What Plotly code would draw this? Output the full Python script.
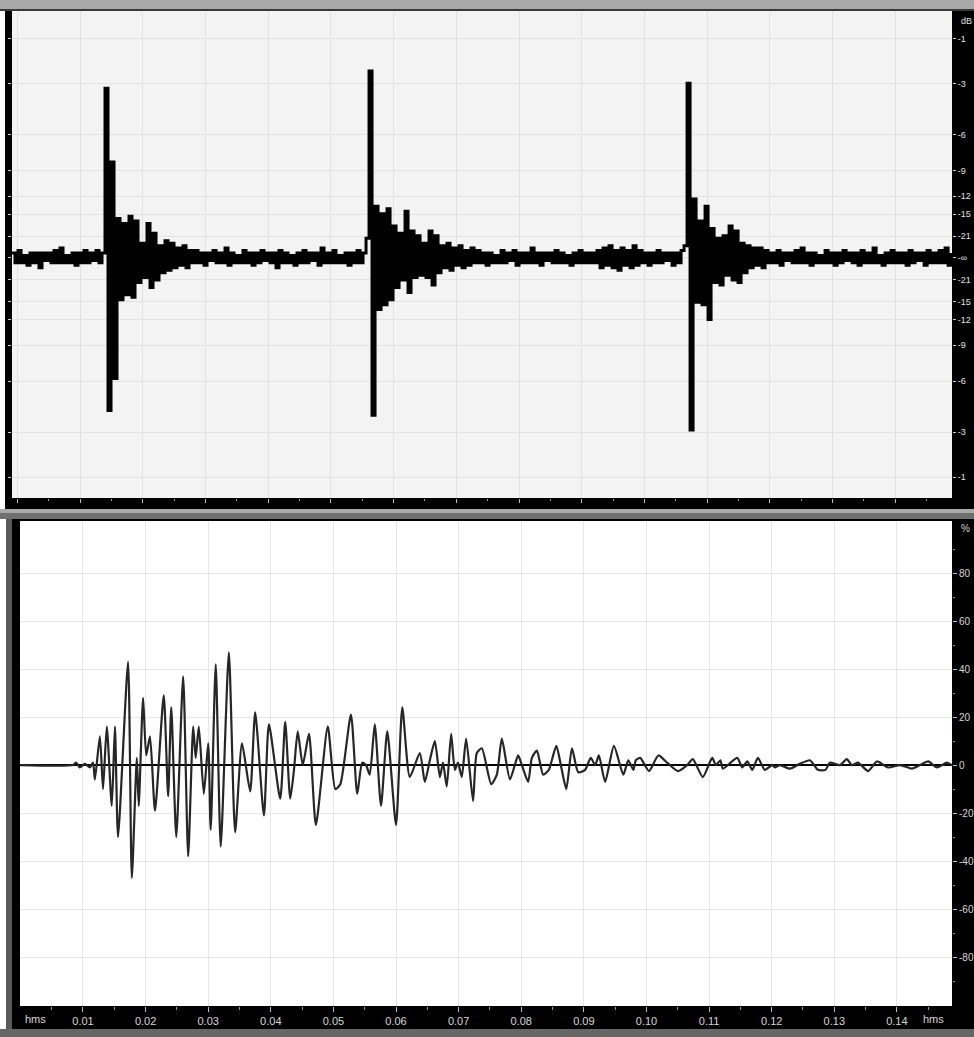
import plotly.graph_objects as go

W, H = 974, 1037

# ---------------- top panel: overview waveform (amplitude in % of full scale, one value per sample)
noise_a = [2, -2, 3, -2, 1, -3, 2, -2, 2, -4, 2, -1, 2, -2, 3, -2, 4, -2, 1, -2,
           2, -3, 2, -2, 3, -2, 2, -1, 3, -2, 2]
event_1 = [69, -62, 39, -49, 16, -17, 14, -15, 17, -16, 15, -10, 6, -8, 14, -12, 10, -9, 5, -6,
           7, -5, 6, -4, 4, -3, 5, -4, 3, -2]
noise_b = [3, -2, 2, -3, 2, -1, 3, -2, 2, -2, 4, -3, 2, -2, 1, -2, 3, -2, 2, -3,
           2, -2, 3, -1, 2, -2, 2, -4, 3, -2, 2, -2, 1, -3, 2, -2, 3, -2, 2, -1,
           2, -3, 4, -2, 2, -2, 3, -2, 1, -2, 2, -3, 2, -2, 3, -2, 2]
event_2 = [8, 76, -64, 21, -21, 18, -19, 20, -17, 13, -12, 10, -9, 19, -14, 11, -8, 9, -7, 6,
           -8, 11, -11, 9, -6, 5, -4, 6, -5, 4, -3, 5, -4, 3, -3, 4]
noise_c = [-2, 3, -2, 2, -3, 2, -2, 1, -2, 3, -2, 2, -1, 3, -3, 2, -2, 2, -2, 4,
           -2, 2, -3, 2, -1, 2, -2, 3, -2, 2, -2, 1, -3, 2, -2, 3, -2, 2, -2, 2,
           -2, 3, -4, 4, -3, 5, -4, 3, -5, 4, -3, 3, -4, 5, -3, 3, -2, 2, -3, 2,
           -2, 3, -2, 2, -1, 2, -3, 2, -2, 3]
event_3 = [5, 71, -70, 24, -18, 15, -19, 21, -25, 12, -10, 8, -11, 9, -7, 13, -9, 11, -10, 6,
           -6, 5, -4, 4, -3, 4, -4]
noise_d = [3, -2, 2, -2, 3, -3, 2, -1, 2, -2, 3, -2, 4, -2, 2, -3, 2, -2, 1, -2,
           3, -2, 2, -3, 2, -2, 3, -1, 2, -2, 2, -3, 3, -2, 2, -2, 4, -2, 1, -3,
           2, -2, 3, -2, 2, -2, 2, -3, 3, -2, 2, -1, 2, -3, 3, -2, 2, -2, 3, -2,
           4, -3, 2]
top_v = noise_a + event_1 + noise_b + event_2 + noise_c + event_3 + noise_d
top_x = list(range(len(top_v)))  # sample index

db_vals = [89.1, 70.8, 50.1, 35.5, 25.1, 17.8, 8.9, 0, -8.9, -17.8, -25.1, -35.5, -50.1, -70.8, -89.1]
db_text = ["-1", "-3", "-6", "-9", "-12", "-15", "-21", "-\u221e", "-21", "-15", "-12", "-9", "-6", "-3", "-1"]

# ---------------- bottom panel: zoomed waveform (time in ms, amplitude in %)
bot_t = [0, 8.4, 8.9, 9.5, 10.3, 11.1, 11.6, 11.9, 12.7, 13.2,
         13.8, 14.6, 15.1, 15.6, 17.2, 17.8, 18.6, 18.9, 19.6, 20.1,
         20.7, 21.5, 22.9, 23.6, 24.1, 24.9, 26.0, 26.8, 27.6, 28.0,
         28.5, 29.3, 30.0, 30.4, 31.2, 32.0, 33.3, 34.3, 35.4, 36.7,
         37.5, 38.9, 39.7, 41.5, 42.3, 43.1, 43.7, 44.3, 45.1, 46.1,
         47.2, 49.1, 50.3, 51.1, 52.8, 53.8, 54.6, 55.2, 55.8, 56.6,
         57.6, 58.6, 60.0, 61.0, 62.2, 63.8, 64.6, 65.4, 66.2, 67.0,
         67.5, 68.1, 68.8, 69.4, 69.9, 70.5, 71.2, 72.3, 72.9, 73.7,
         75.2, 76.1, 76.9, 78.2, 79.5, 80.1, 81.1, 81.7, 82.5, 83.5,
         84.4, 85.6, 86.4, 87.2, 88.1, 89.1, 90.2, 91.1, 91.8, 92.4,
         93.4, 94.8, 96.3, 97.1, 97.9, 98.3, 99.0, 100.4, 101.9, 103.3,
         105.0, 106.5, 107.4, 109.0, 110.5, 111.1, 111.8, 112.2, 114.5, 115.3,
         116.1, 116.9, 117.8, 118.9, 120.1, 120.5, 121.3, 122.9, 124.5, 126.1,
         127.4, 128.6, 129.3, 130.9, 132.0, 132.8, 133.8, 135.4, 136.8, 138.6,
         140.5, 142.4, 143.7, 145.0, 146.4, 148.0, 148.8, 149.3]
bot_v = [0, 0, 1, -1, 0.5, -1, 1, -6, 12, -10,
         16, -17, 16, -30, 43, -47, 3, -17, 28, 4,
         12, -19, 29, -13, 24, -30, 37, -38, 16, 3,
         16, -12, 9, -27, 42, -34, 47, -28, 9, -11,
         22, -21, 17, -14, 18, -14, -2, 14, 0, 13,
         -25, 16, -10, -8, 21, -12, 1, 0, -4, 17,
         -17, 14, -25, 24, -5, 5, -7, 2, 10, -5,
         1, -9, 13, -2, 1, -5, 11, -15, 5, 7,
         -8, -4, 11, -6, 4, 0, -7, 3, 6, -4,
         -2, 8, -1, -10, 7, -3, -2, 3, 0, 4,
         -7, 8, -4, 2, -2, 2, 3, -2.5, 4, 1,
         -2.5, 0, 2.5, -5, 3, 0, 2, -1.5, 3, -1,
         1.5, -2, 3, -2, 0, -1, 0, -1.5, 0.5, 2,
         -2, -2, 1, 0, 2.5, 0, 1, -2.5, 1.5, -1,
         0, -1.5, 0, 1.5, -1, 1, 0, 0]
assert len(bot_t) == len(bot_v)

x_tickvals = [10, 20, 30, 40, 50, 60, 70, 80, 90, 100, 110, 120, 130, 140]
x_ticktext = ["0.01", "0.02", "0.03", "0.04", "0.05", "0.06", "0.07", "0.08", "0.09", "0.10",
              "0.11", "0.12", "0.13", "0.14"]
x_minor = [5, 15, 25, 35, 45, 55, 65, 75, 85, 95, 105, 115, 125, 135, 145]
pct_vals = [-80, -60, -40, -20, 0, 20, 40, 60, 80]
pct_text = ["-80", "-60", "-40", "-20", "0", "20", "40", "60", "80"]

FONT = "Liberation Sans, Arial, sans-serif"
LBL = "#d6d6d6"

def px(x):
    return x / W

def py(y):
    return 1 - y / H

fig = go.Figure()
fig.add_trace(go.Scatter(x=top_x, y=top_v, mode="lines", line=dict(color="#000000", width=3, shape="hv"),
                         xaxis="x", yaxis="y", hoverinfo="skip"))
fig.add_trace(go.Scatter(x=bot_t, y=bot_v, mode="lines",
                         line=dict(color="#262626", width=2.2, shape="spline", smoothing=0.6),
                         xaxis="x2", yaxis="y2", hoverinfo="skip"))

fig.update_layout(
    width=W, height=H, margin=dict(l=0, r=0, t=0, b=0),
    paper_bgcolor="#000000", plot_bgcolor="#ffffff", showlegend=False,
    font=dict(family=FONT, color=LBL),
    xaxis=dict(domain=[px(12), px(952)], anchor="y", range=[0, 313.3],
               tickmode="linear", tick0=22.7, dtick=20.9, showticklabels=False,
               ticks="outside", ticklen=4, tickcolor="#bdbdbd",
               minor=dict(tickmode="linear", tick0=12.25, dtick=20.9, ticks="outside", ticklen=2,
                          tickcolor="#9a9a9a", showgrid=False),
               showgrid=True, gridcolor="#e2e2e2", gridwidth=1, zeroline=False, showline=False),
    yaxis=dict(domain=[py(498), py(11)], anchor="x", range=[-97.6, 100.4], side="right",
               tickmode="array", tickvals=db_vals, ticktext=db_text,
               ticks="outside", ticklen=3, tickcolor="#cfcfcf",
               tickfont=dict(size=9, color="#e0e0e0", family=FONT),
               showgrid=True, gridcolor="#e3e3e3", gridwidth=1, zeroline=False,
               showline=True, linecolor="#000000", linewidth=1, mirror="ticks"),
    xaxis2=dict(domain=[px(20), px(952)], anchor="y2", range=[-0.06, 148.8],
                tickmode="array", tickvals=x_tickvals, ticktext=x_ticktext,
                ticks="outside", ticklen=5, tickcolor="#bdbdbd",
                tickfont=dict(size=11, color=LBL, family=FONT),
                minor=dict(tickmode="array", tickvals=x_minor, ticks="outside", ticklen=3,
                           tickcolor="#9a9a9a", showgrid=False),
                showgrid=True, gridcolor="#e6e6e6", gridwidth=1, zeroline=False, showline=False),
    yaxis2=dict(domain=[py(1006), py(521)], anchor="x2", range=[-100.4, 101.7], side="right",
                tickmode="array", tickvals=pct_vals, ticktext=pct_text,
                ticks="outside", ticklen=4, tickcolor="#bdbdbd",
                tickfont=dict(size=10, color=LBL, family=FONT),
                minor=dict(tickmode="linear", tick0=10, dtick=20, ticks="outside", ticklen=2,
                           tickcolor="#9a9a9a", showgrid=False),
                showgrid=True, gridcolor="#e6e6e6", gridwidth=1,
                zeroline=True, zerolinecolor="#000000", zerolinewidth=1.5, showline=False),
)

shapes = [
    dict(type="rect", xref="x domain", yref="y domain", x0=0, x1=1, y0=0, y1=1,
         fillcolor="#f3f3f3", line=dict(width=0), layer="below"),
    dict(type="rect", xref="paper", yref="paper", x0=0, x1=1, y0=py(9), y1=1,
         fillcolor="#a8a8a8", line=dict(width=0), layer="below"),
    dict(type="rect", xref="paper", yref="paper", x0=0, x1=1, y0=py(11), y1=py(9),
         fillcolor="#3a3a3a", line=dict(width=0), layer="below"),
    dict(type="rect", xref="paper", yref="paper", x0=0, x1=1, y0=py(513), y1=py(509),
         fillcolor="#a9a9a9", line=dict(width=0), layer="below"),
    dict(type="rect", xref="paper", yref="paper", x0=0, x1=1, y0=py(519), y1=py(513),
         fillcolor="#707070", line=dict(width=0), layer="below"),
    dict(type="rect", xref="paper", yref="paper", x0=0, x1=1, y0=0, y1=py(1029),
         fillcolor="#666666", line=dict(width=0), layer="below"),
    dict(type="rect", xref="paper", yref="paper", x0=0, x1=px(5), y0=py(509), y1=py(11),
         fillcolor="#ffffff", line=dict(width=0), layer="below"),
    dict(type="rect", xref="paper", yref="paper", x0=0, x1=px(6), y0=py(1029), y1=py(519),
         fillcolor="#ffffff", line=dict(width=0), layer="below"),
    dict(type="rect", xref="paper", yref="paper", x0=px(6), x1=px(12), y0=py(1029), y1=py(519),
         fillcolor="#5a5a5a", line=dict(width=0), layer="below"),
]
fig.update_layout(shapes=shapes)

annotations = [
    dict(text="dB", x=px(959), y=py(21), xref="paper", yref="paper", xanchor="left", yanchor="middle",
         showarrow=False, font=dict(size=9, color="#e0e0e0", family=FONT)),
    dict(text="%", x=px(959), y=py(528), xref="paper", yref="paper", xanchor="left", yanchor="middle",
         showarrow=False, font=dict(size=10, color=LBL, family=FONT)),
    dict(text="hms", x=px(23), y=py(1019), xref="paper", yref="paper", xanchor="left", yanchor="middle",
         showarrow=False, font=dict(size=11, color=LBL, family=FONT)),
    dict(text="hms", x=px(946), y=py(1019), xref="paper", yref="paper", xanchor="right", yanchor="middle",
         showarrow=False, font=dict(size=11, color=LBL, family=FONT)),
]
fig.update_layout(annotations=annotations)

fig.write_html(
    "out.html",
    config={"displayModeBar": False},
    post_script="document.body.style.margin='0';document.body.style.padding='0';"
                "document.body.style.overflow='hidden';",
)
